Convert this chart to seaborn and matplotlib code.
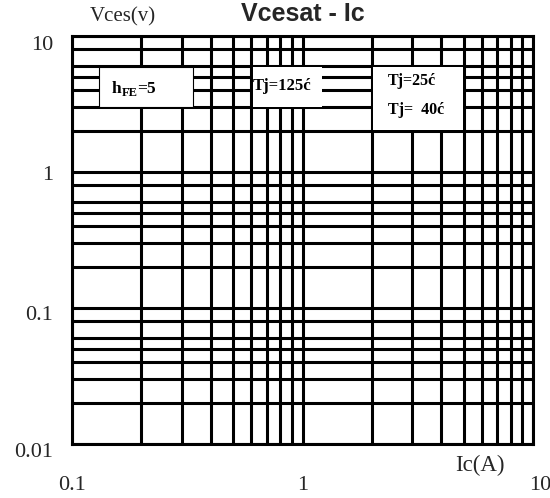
import numpy as np
import matplotlib
matplotlib.use("Agg")
import matplotlib.pyplot as plt
import matplotlib.ticker as mticker
from matplotlib.patches import Rectangle
from matplotlib.transforms import ScaledTranslation
import seaborn as sns

# Axis ranges and decade ticks
x_range = [0.1, 10]
y_range = [0.01, 10]
x_major = [0.1, 1, 10]
x_major_labels = ["0.1", "1", "10"]
y_major = [0.01, 0.1, 1, 10]
y_major_labels = ["0.01", "0.1", "1", "10"]

# Intermediate grid lines within each decade
x_subs = [2, 3, 4, 5, 6, 7, 8, 9]
y_subs = [2, 3, 4, 5, 6, 8]

# Annotation texts
title_text = "Vcesat - Ic"
x_label = "Ic(A)"
y_label = "Vces(v)"
hfe_main, hfe_sub, hfe_tail = "h", "FE", "=5"
tj_hot = "Tj=125ć"
tj_room = "Tj=25ć"
tj_cold = "Tj=  40ć"

sns.set_theme(style="white")
plt.rcParams["font.family"] = ["Liberation Serif", "DejaVu Serif"]

fig = plt.figure(figsize=(5.5, 4.98), dpi=100)
ax = fig.add_axes([72 / 550, 1 - 444 / 498, 461 / 550, 408 / 498])
ax.set_xscale("log")
ax.set_yscale("log")
ax.set_xlim(*x_range)
ax.set_ylim(*y_range)

LW = 2.2
ax.xaxis.set_major_locator(mticker.FixedLocator(x_major))
ax.xaxis.set_major_formatter(mticker.FixedFormatter(x_major_labels))
ax.xaxis.set_minor_locator(mticker.LogLocator(base=10, subs=x_subs))
ax.xaxis.set_minor_formatter(mticker.NullFormatter())
ax.yaxis.set_major_locator(mticker.FixedLocator(y_major))
ax.yaxis.set_major_formatter(mticker.FixedFormatter(y_major_labels))
ax.yaxis.set_minor_locator(mticker.LogLocator(base=10, subs=y_subs))
ax.yaxis.set_minor_formatter(mticker.NullFormatter())

ax.set_axisbelow(True)
ax.grid(True, which="both", color="black", linewidth=LW)
ax.tick_params(which="both", length=0)
ax.tick_params(axis="y", labelsize=16, pad=13.5)
ax.tick_params(axis="x", labelsize=16, pad=23)
for sp in ax.spines.values():
    sp.set_color("black")
    sp.set_linewidth(LW)
    sp.set_zorder(5)

# nudge tick labels (pixels downward, bottom decade first)
y_label_drop = [6, 5, 1, 7]
for lab, dy in zip(ax.get_yticklabels(), y_label_drop):
    lab.set_transform(lab.get_transform() + ScaledTranslation(0, -dy / 100, fig.dpi_scale_trans))
xl = ax.get_xticklabels()
xl[-1].set_transform(xl[-1].get_transform() + ScaledTranslation(7 / 100, 0, fig.dpi_scale_trans))

# White label panels over the grid
ax.add_patch(Rectangle((0.131, 3.03), 0.335 - 0.131, 5.93 - 3.03,
                       facecolor="white", edgecolor="black", linewidth=0.8, zorder=2))
ax.add_patch(Rectangle((0.61, 3.03), 1.215 - 0.61, 5.93 - 3.03,
                       facecolor="white", edgecolor="none", zorder=2))
ax.add_patch(Rectangle((2.03, 2.02), 4.95 - 2.03, 5.93 - 2.02,
                       facecolor="white", edgecolor="none", zorder=2))

bold = dict(fontweight="bold", color="black", zorder=6)
t1 = ax.text(0.149, 4.05, hfe_main, fontsize=12.5, ha="left", va="center", **bold)
t2 = ax.annotate(hfe_sub, xy=(1, 0), xycoords=t1, xytext=(0, -1), textcoords="offset points",
                 fontsize=9, ha="left", va="bottom", **bold)
ax.annotate(hfe_tail, xy=(1, 0), xycoords=(t2, t1), xytext=(-0.5, 0), textcoords="offset points",
            fontsize=12.5, ha="left", va="bottom", **bold)

ax.text(0.61, 4.3, tj_hot, fontsize=12, ha="left", va="center", **bold)
ax.text(2.35, 4.65, tj_room, fontsize=11.5, ha="left", va="center", **bold)
ax.text(2.35, 2.85, tj_cold, fontsize=11.5, ha="left", va="center", **bold)

ax.set_title(title_text, fontsize=18, fontweight="bold", family=["Liberation Sans", "DejaVu Sans"],
             pad=11)
ax.set_xlabel(x_label, fontsize=16.5)
ax.xaxis.set_label_coords(0.885, -0.027)
ax.xaxis.label.set_va("top")
ax.set_ylabel(y_label, fontsize=15, rotation=0)
ax.yaxis.set_label_coords(0.111, 1.047)
ax.yaxis.label.set_va("center")
ax.yaxis.label.set_ha("center")

fig.savefig("out.png", dpi=100, facecolor="white")
